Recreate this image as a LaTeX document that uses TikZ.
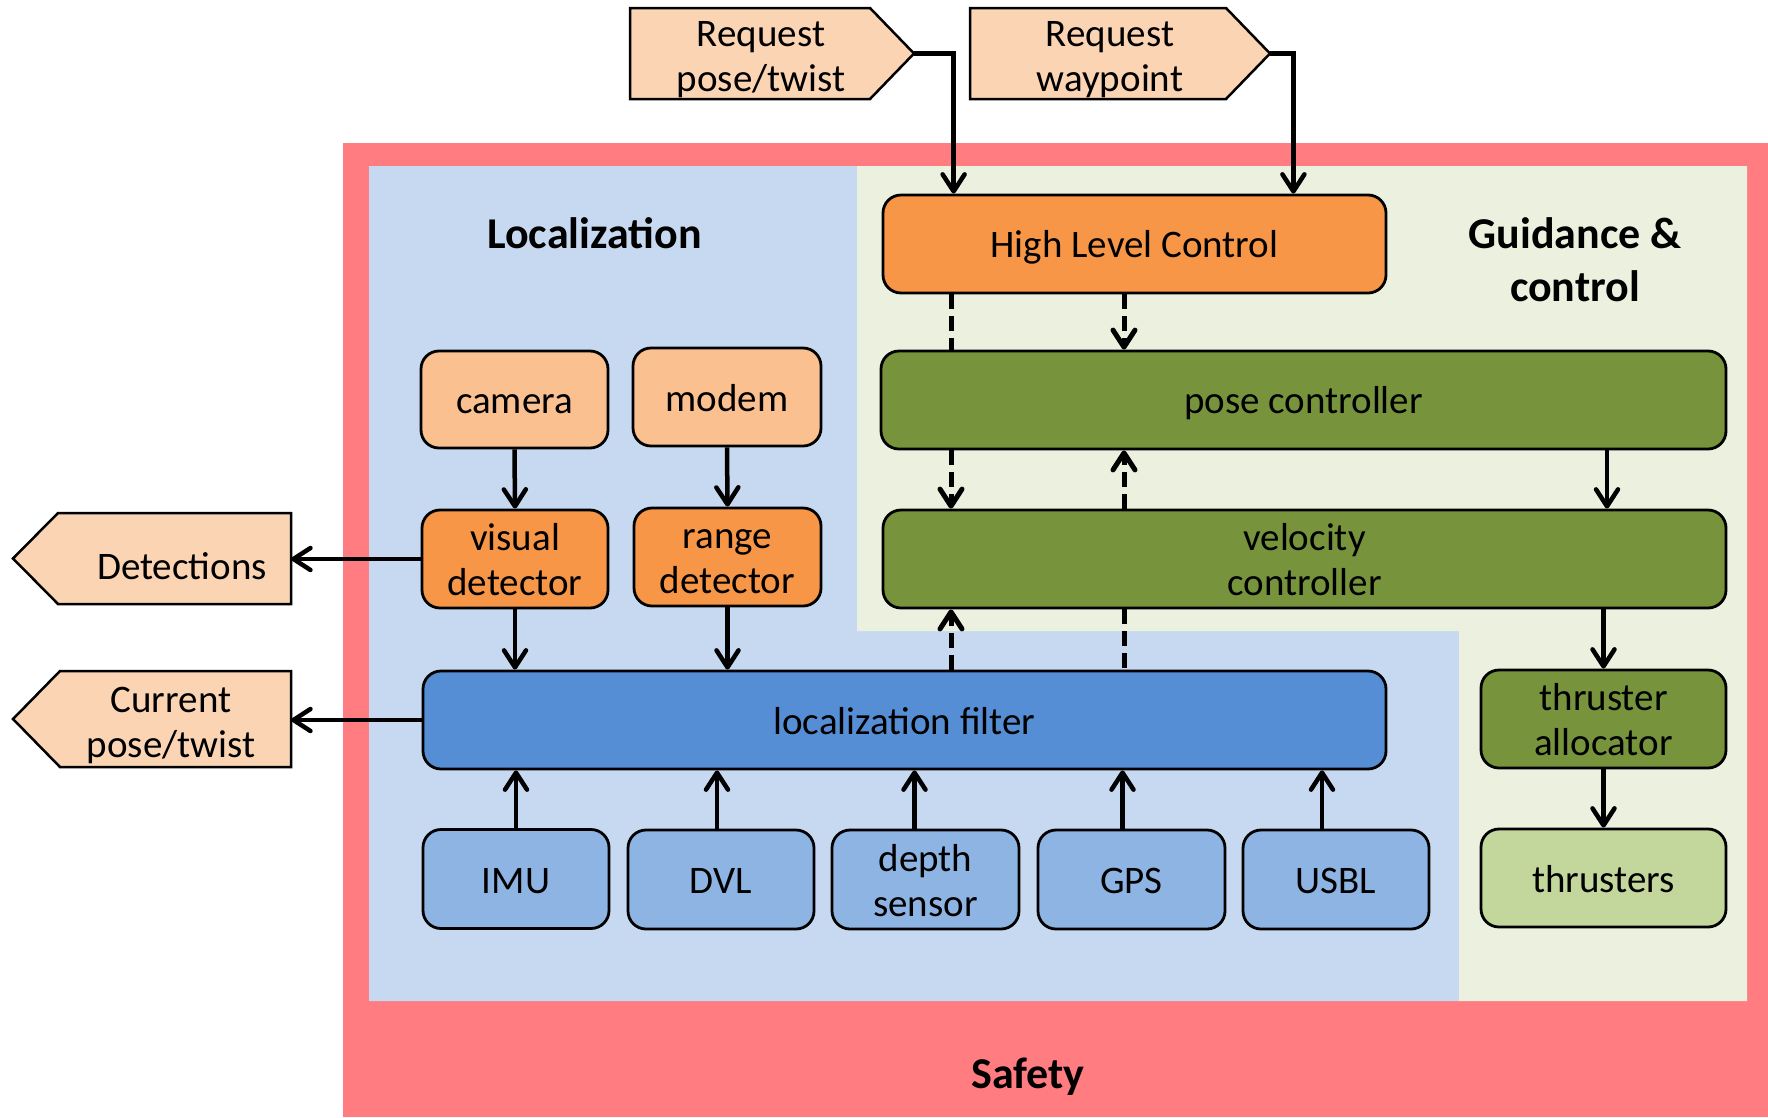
\documentclass[tikz,border=0pt]{standalone}
\usepackage{fontspec}
\setmainfont{Carlito}
\usetikzlibrary{arrows.meta}
\definecolor{safred}{HTML}{FF7C80}
\definecolor{locbg}{HTML}{C6D9F1}
\definecolor{gncbg}{HTML}{EBF1DE}
\definecolor{orng}{HTML}{F79646}
\definecolor{peach}{HTML}{FAC090}
\definecolor{pent}{HTML}{FBD4B4}
\definecolor{olive}{HTML}{77933C}
\definecolor{lgreen}{HTML}{C3D69B}
\definecolor{fblue}{HTML}{558ED5}
\definecolor{sblue}{HTML}{8DB4E2}
\newcommand\myts{\rule{0pt}{0.84em}}
\newcommand\mybs{\rule[-0.11em]{0pt}{0.11em}}
\tikzset{
  box/.style={draw=black, line width=2.8pt, rounded corners=18pt, align=center, inner sep=0pt,
    font=\fontsize{39}{45}\selectfont},
  sz/.style 2 args={minimum width=#1, minimum height=#2},
  txt/.style={align=center, inner sep=0pt, font=\fontsize{39}{45}\selectfont},
  ttl/.style={align=center, inner sep=0pt, font=\fontsize{44}{53}\selectfont\bfseries},
  pentshape/.style={fill=pent, draw=black, line width=2.5pt},
  arr/.style={line width=4.5pt, -{Straight Barb[length=17pt,width=22pt,round]}},
  dline/.style={line width=5pt, dash pattern=on 15pt off 7pt},
  darr/.style={dline, -{Straight Barb[length=17pt,width=22pt,round]}},
}
\begin{document}
\begin{tikzpicture}[x=1pt,y=-1pt]
\useasboundingbox (0,0) rectangle (1768,1117);
% regions
\fill[safred] (343,143) rectangle (1768,1117);
\fill[locbg] (369,166) -- (857,166) -- (857,631) -- (1459,631) -- (1459,1001) -- (369,1001) -- cycle;
\fill[gncbg] (857,166) -- (1747,166) -- (1747,1001) -- (1459,1001) -- (1459,631) -- (857,631) -- cycle;
% titles
\node[ttl] (tloc) at (594.5,232.5) {\myts Localization\mybs};
\node[ttl] (tgnc) at (1575,259) {\myts Guidance \&\\control\mybs};
\node[ttl] (tsaf) at (1028,1073) {\myts Safety\mybs};
% pentagons
\draw[pentshape] (630,8) -- (870,8) -- (914,53.5) -- (870,99) -- (630,99) -- cycle;
\draw[pentshape] (970,8) -- (1226,8) -- (1270,53.5) -- (1226,99) -- (970,99) -- cycle;
\draw[pentshape] (13,558.5) -- (58,513) -- (291,513) -- (291,604) -- (58,604) -- cycle;
\draw[pentshape] (13,719) -- (60,671) -- (291,671) -- (291,767) -- (60,767) -- cycle;
\node[txt] (rpt) at (761,56) {\myts Request\\pose/twist\mybs};
\node[txt] (rwp) at (1110,56) {\myts Request\\waypoint\mybs};
\node[txt, sz={218pt}{91pt}] (det) at (182,565) {\myts Detections\mybs};
\node[txt, sz={240pt}{96pt}] (cur) at (171,722) {\myts Current\\pose/twist\mybs};
\coordinate (rptip) at (914,53.5);
\coordinate (rwptip) at (1270,53.5);
% localization boxes
\node[box, fill=peach, sz={187pt}{97pt}] (camera) at (514.5,399.5) {\myts camera\mybs};
\node[box, fill=peach, sz={188pt}{98pt}] (modem) at (727,397) {\myts modem\mybs};
\node[box, fill=orng, sz={186pt}{98pt}] (vis) at (515,559) {\myts visual\\detector\mybs};
\node[box, fill=orng, sz={187pt}{98pt}] (range) at (727.5,557) {\myts range\\detector\mybs};
\node[box, fill=fblue, sz={963pt}{98pt}] (filter) at (904.5,720) {\myts localization filter\mybs};
\node[box, fill=sblue, sz={186pt}{99pt}] (imu) at (516,879) {\myts IMU\mybs};
\node[box, fill=sblue, sz={186pt}{99pt}] (dvl) at (721,879.5) {\myts DVL\mybs};
\node[box, fill=sblue, sz={187pt}{99pt}] (depth) at (925.5,879.5) {\myts depth\\sensor\mybs};
\node[box, fill=sblue, sz={187pt}{99pt}] (gps) at (1131.5,879.5) {\myts GPS\mybs};
\node[box, fill=sblue, sz={186pt}{99pt}] (usbl) at (1336,879.5) {\myts USBL\mybs};
% guidance boxes
\node[box, fill=orng, sz={503pt}{98pt}] (hlc) at (1134.5,244) {\myts High Level Control\mybs};
\node[box, fill=olive, sz={845pt}{98pt}] (pose) at (1303.5,400) {\myts pose controller\mybs};
\node[box, fill=olive, sz={843pt}{98pt}] (vel) at (1304.5,559) {\myts velocity\\controller\mybs};
\node[box, fill=olive, sz={245pt}{98pt}] (alloc) at (1603.5,719) {\myts thruster\\allocator\mybs};
\node[box, fill=lgreen, sz={245pt}{98pt}] (thr) at (1603.5,878) {\myts thrusters\mybs};
% helper x positions
\coordinate (dl) at (951,0);
\coordinate (dr) at (1124,0);
\coordinate (sr) at (1607,0);
% request arrows
\draw[arr] (rptip) -| ([xshift=72pt]hlc.north west);
\draw[arr] (rwptip) -| ([xshift=-94pt]hlc.north east);
% localization arrows
\draw[arr] (camera.south) -- (vis.north);
\draw[arr] (modem.south) -- (range.north);
\draw[arr] (vis.south) -- (vis.south |- filter.north);
\draw[arr] (range.south) -- (range.south |- filter.north);
\draw[arr] (vis.west) -- (vis.west -| det.east);
\draw[arr] (filter.west) -- (filter.west -| cur.east);
\draw[arr] (imu.north) -- (imu.north |- filter.south);
\draw[arr] ([xshift=-4pt]dvl.north) -- ([xshift=-4pt]dvl.north |- filter.south);
\draw[arr] ([xshift=-11pt]depth.north) -- ([xshift=-11pt]depth.north |- filter.south);
\draw[arr] ([xshift=-9pt]gps.north) -- ([xshift=-9pt]gps.north |- filter.south);
\draw[arr] ([xshift=-14pt]usbl.north) -- ([xshift=-14pt]usbl.north |- filter.south);
% guidance arrows
\draw[dline] (hlc.south -| dl) -- (pose.north -| dl);
\draw[darr] (hlc.south -| dr) -- (pose.north -| dr);
\draw[darr] (pose.south -| dl) -- (vel.north -| dl);
\draw[darr] (vel.north -| dr) -- (pose.south -| dr);
\draw[darr] (filter.north -| dl) -- (vel.south -| dl);
\draw[dline] (vel.south -| dr) -- (filter.north -| dr);
\draw[arr] (pose.south -| sr) -- (vel.north -| sr);
\draw[arr] (vel.south -| alloc.north) -- (alloc.north);
\draw[arr] (alloc.south) -- (thr.north);
\end{tikzpicture}
\end{document}
